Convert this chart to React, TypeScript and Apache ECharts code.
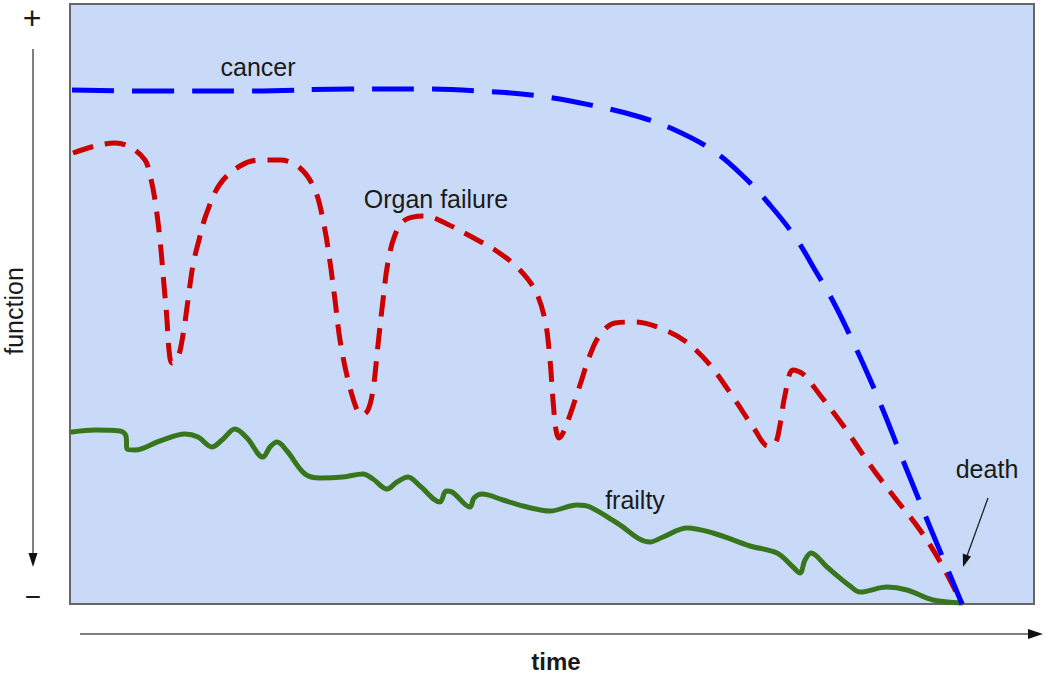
import React, { useEffect, useRef } from "react";
import * as echarts from "echarts";

// time units (0..964) vs function units (0..600)
const cancer: number[][] = [
  [2, 514], [80, 513], [180, 513], [280, 515], [350, 515], [410, 513], [470, 508],
  [530, 497], [570, 487], [605, 474], [642, 454], [672, 429], [700, 399], [725, 367],
  [745, 334], [765, 299], [783, 262], [799, 227], [815, 189], [830, 151], [845, 114],
  [860, 77], [875, 41], [892, 0],
];

const organFailure: number[][] = [
  [3, 451], [25, 458], [45, 461], [60, 457], [75, 444], [80, 429], [85, 404], [90, 364],
  [94, 319], [97, 284], [99, 254], [102, 241], [108, 247], [113, 269], [118, 304],
  [123, 339], [129, 364], [136, 389], [150, 420], [170, 438], [190, 444], [210, 444],
  [230, 436], [245, 414], [254, 379], [260, 342], [265, 304], [270, 264], [278, 224],
  [287, 194], [292, 189], [298, 194], [303, 214], [308, 259], [313, 304], [318, 342],
  [325, 369], [335, 384], [355, 388], [377, 380], [400, 368], [425, 354], [448, 336],
  [465, 314], [475, 284], [480, 244], [483, 204], [486, 174], [489, 166], [493, 171],
  [500, 189], [510, 219], [520, 249], [530, 269], [545, 281], [565, 282], [590, 276],
  [615, 263], [640, 239], [665, 204], [685, 174], [698, 158], [705, 160], [710, 179],
  [715, 209], [723, 234], [733, 230], [750, 209], [775, 176], [800, 139], [825, 106],
  [850, 74], [872, 39], [892, 0],
];

const frailty: number[][] = [
  [2, 172], [25, 174], [50, 173], [56, 168], [57, 155], [65, 154], [90, 163], [115, 170],
  [128, 167], [142, 157], [152, 164], [165, 175], [177, 166], [193, 147], [200, 157],
  [207, 162], [217, 153], [235, 130], [250, 126], [273, 127], [293, 130], [303, 125],
  [317, 115], [327, 122], [338, 127], [350, 118], [370, 102], [376, 113], [382, 112],
  [400, 97], [404, 106], [412, 110], [433, 104], [457, 97], [480, 93], [507, 99],
  [520, 97], [547, 81], [580, 62], [593, 67], [617, 76], [643, 71], [680, 58], [707, 51],
  [723, 37], [730, 31], [735, 44], [741, 51], [757, 37], [780, 18], [790, 12], [817, 17],
  [837, 14], [863, 4], [892, 1],
];

const seriesNames = ["cancer", "Organ failure", "frailty"];
const xAxisTitle = "time";
const yAxisTitle = "function";
const yTop = "+";
const yBottom = "\u2212";
const deathLabel = "death";

const FONT = "'Liberation Sans', Arial, sans-serif";

export default function App() {
  const ref = useRef<HTMLDivElement>(null);
  useEffect(() => {
    document.body.style.margin = "0";
    const chart = echarts.init(ref.current!, null, { renderer: "svg" });
    const textStyle = (t: string, x: number, y: number, extra: any = {}) => ({
      type: "text",
      x,
      y,
      style: {
        text: t,
        fill: "#1a1a1a",
        font: `25px ${FONT}`,
        textAlign: "center",
        textVerticalAlign: "middle",
        ...extra,
      },
      z: 100,
    });
    chart.setOption({
      animation: false,
      backgroundColor: "#ffffff",
      grid: {
        left: 70,
        top: 4,
        width: 964,
        height: 600,
        show: true,
        backgroundColor: "#c9daf8",
        borderColor: "#666666",
        borderWidth: 2,
      },
      xAxis: { type: "value", min: 0, max: 964, show: false },
      yAxis: { type: "value", min: 0, max: 600, show: false },
      series: [
        {
          name: seriesNames[0],
          type: "line",
          data: cancer,
          smooth: 0.4,
          symbol: "none",
          clip: false,
          lineStyle: { color: "#0000ff", width: 5, type: [42, 18], cap: "butt" },
          z: 3,
        },
        {
          name: seriesNames[1],
          type: "line",
          data: organFailure,
          smooth: 0.35,
          symbol: "none",
          clip: false,
          lineStyle: { color: "#cc0000", width: 5, type: [21, 12], cap: "butt" },
          z: 2,
        },
        {
          name: seriesNames[2],
          type: "line",
          data: frailty,
          smooth: 0.35,
          symbol: "none",
          clip: false,
          lineStyle: { color: "#38761d", width: 5, cap: "round", join: "round" },
          z: 1,
        },
      ],
      graphic: [
        textStyle(seriesNames[0], 258, 67),
        textStyle(seriesNames[1], 436, 199),
        textStyle(seriesNames[2], 635, 500),
        textStyle(deathLabel, 987, 469),
        textStyle(xAxisTitle, 556, 661, { font: `bold 24px ${FONT}` }),
        textStyle(yTop, 32, 18, { font: `32px ${FONT}` }),
        textStyle(yBottom, 33, 596, { font: `28px ${FONT}` }),
        {
          type: "text",
          x: 14,
          y: 311,
          rotation: Math.PI / 2,
          style: {
            text: yAxisTitle,
            fill: "#1a1a1a",
            font: `25px ${FONT}`,
            textAlign: "center",
            textVerticalAlign: "middle",
          },
        },
        // y arrow
        { type: "line", shape: { x1: 33, y1: 49, x2: 33, y2: 556 }, style: { stroke: "#555", lineWidth: 1.5 } },
        { type: "polygon", shape: { points: [[28.5, 553], [37.5, 553], [33, 567]] }, style: { fill: "#111" } },
        // x arrow
        { type: "line", shape: { x1: 80, y1: 634, x2: 1030, y2: 634 }, style: { stroke: "#555", lineWidth: 1.5 } },
        { type: "polygon", shape: { points: [[1028, 629], [1028, 639], [1043, 634]] }, style: { fill: "#111" } },
        // death arrow
        { type: "line", shape: { x1: 988, y1: 498, x2: 967, y2: 556 }, style: { stroke: "#222", lineWidth: 1.3 }, z: 100 },
        { type: "polygon", shape: { points: [[971, 556.5], [962.8, 553.6], [963, 567]] }, style: { fill: "#111" }, z: 100 },
      ],
    });
    return () => chart.dispose();
  }, []);
  return <div ref={ref} style={{ width: 1050, height: 675 }} />;
}
